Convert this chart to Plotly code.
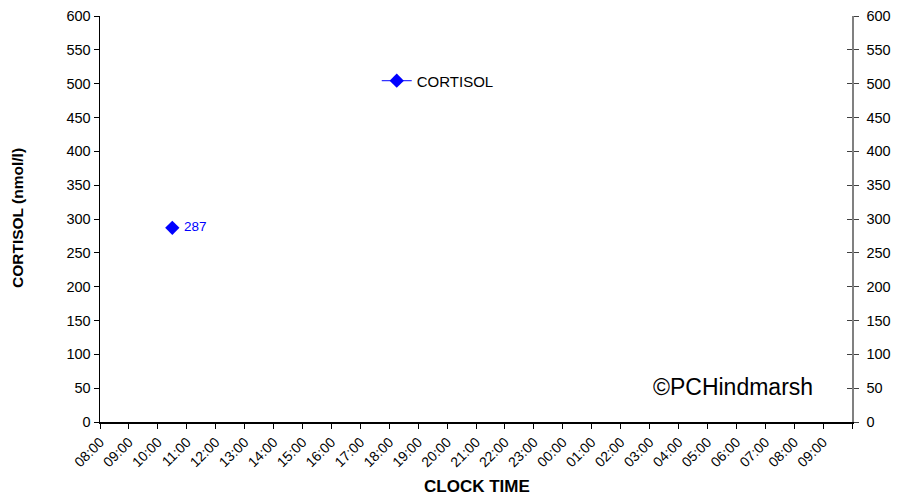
import plotly.graph_objects as go

# Data
times_h = [10.5]          # clock time in hours from 00:00 on day 1 (10:30)
cortisol = [287]
point_labels = ["287"]
tick_hours = list(range(8, 34))
tick_labels = ["08:00", "09:00", "10:00", "11:00", "12:00", "13:00", "14:00", "15:00",
               "16:00", "17:00", "18:00", "19:00", "20:00", "21:00", "22:00", "23:00",
               "00:00", "01:00", "02:00", "03:00", "04:00", "05:00", "06:00", "07:00",
               "08:00", "09:00"]
y_ticks = list(range(0, 601, 50))

FONT = "Liberation Sans, Arial, sans-serif"
BLUE = "#0000FF"

W, H = 897, 496
# plot area in page pixels
pl, pr, pt, pb = 100, 852, 16, 422

fig = go.Figure()
fig.add_trace(go.Scatter(
    x=times_h, y=cortisol, mode="lines+markers+text", name="CORTISOL",
    text=point_labels, texttemplate=" %{text}", textposition="middle right",
    textfont=dict(family=FONT, size=13.5, color=BLUE),
    marker=dict(symbol="diamond", size=11, color=BLUE),
    line=dict(color=BLUE, width=1),
))
# invisible traces for the right axes
fig.add_trace(go.Scatter(x=[8], y=[0], yaxis="y2", mode="markers",
                         marker=dict(opacity=0), showlegend=False, hoverinfo="skip"))
fig.add_trace(go.Scatter(x=[8], y=[0], yaxis="y3", mode="markers",
                         marker=dict(opacity=0), showlegend=False, hoverinfo="skip"))

fig.update_layout(
    width=W, height=H,
    margin=dict(l=pl, r=W - pr, t=pt, b=H - pb, autoexpand=False),
    paper_bgcolor="white", plot_bgcolor="white",
    font=dict(family=FONT, size=13, color="black"),
    showlegend=True,
    legend=dict(x=0.368, y=0.84, xanchor="left", yanchor="middle",
                bgcolor="rgba(0,0,0,0)", font=dict(family=FONT, size=15, color="black")),
    xaxis=dict(
        range=[8, 34], tickmode="array", tickvals=tick_hours + [34],
        ticktext=tick_labels + [""], tickangle=-45, automargin=False,
        ticks="outside", ticklen=5, tickcolor="black",
        showline=True, linecolor="black", linewidth=1.5,
        showgrid=False, zeroline=False,
        tickfont=dict(family=FONT, size=14, color="black"),
    ),
    yaxis=dict(
        range=[0, 600], tickmode="array", tickvals=y_ticks, automargin=False,
        ticks="outside", ticklen=5, tickcolor="black",
        showline=True, linecolor="black", linewidth=1.5,
        showgrid=False, zeroline=False,
        tickfont=dict(family=FONT, size=14.5, color="black"),
    ),
    yaxis2=dict(
        range=[0, 600], tickmode="array", tickvals=y_ticks,
        overlaying="y", side="right", automargin=False,
        ticks="outside", ticklen=5, tickcolor="#404040", ticklabelstandoff=5,
        showline=True, linecolor="#808080", linewidth=1.5,
        showgrid=False, zeroline=False,
        tickfont=dict(family=FONT, size=14.5, color="black"),
    ),
    yaxis3=dict(
        range=[0, 600], tickmode="array", tickvals=y_ticks,
        overlaying="y", side="right", automargin=False,
        ticks="inside", ticklen=5, tickcolor="#404040",
        showticklabels=False, showline=False,
        showgrid=False, zeroline=False,
    ),
    annotations=[
        dict(text="©PCHindmarsh", x=815, y=387, xref="paper", yref="paper",
             xanchor="right", yanchor="middle", showarrow=False,
             font=dict(family=FONT, size=23, color="black")),
        dict(text="<b>CLOCK TIME</b>", x=477, y=486, xref="paper", yref="paper",
             xanchor="center", yanchor="middle", showarrow=False,
             font=dict(family=FONT, size=17, color="black")),
        dict(text="<b>CORTISOL (nmol/l)</b>", x=18, y=218, xref="paper", yref="paper",
             xanchor="center", yanchor="middle", showarrow=False, textangle=-90,
             font=dict(family=FONT, size=15.5, color="black")),
    ],
)

# convert page-pixel positions for annotations into paper coordinates
for ann in fig.layout.annotations:
    ann.x = (ann.x - pl) / (pr - pl)
    ann.y = (pb - ann.y) / (pb - pt)

# remove the browser's default body margin so the figure fills the window exactly
body_css = ("document.body.style.margin='0';"
            "document.body.style.padding='0';"
            "document.body.style.overflow='hidden';")

fig.write_html("out.html", post_script=body_css,
               config={"displayModeBar": False, "staticPlot": True})
